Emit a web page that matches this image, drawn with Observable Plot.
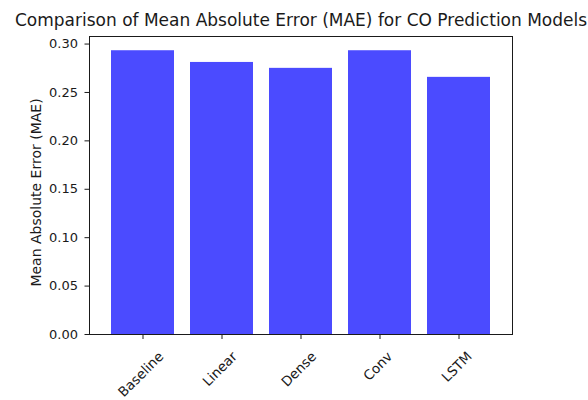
<!DOCTYPE html>
<html><head><meta charset="utf-8">
<script src="https://cdn.jsdelivr.net/npm/d3@7"></script>
<script src="https://cdn.jsdelivr.net/npm/@observablehq/plot@0.6"></script>
<style>body{margin:0;background:#fff} svg{display:block}</style>
</head><body><div id="chart"></div>
<script>
const models = ["Baseline", "Linear", "Dense", "Conv", "LSTM"];
const mae = [0.2931, 0.2810, 0.2749, 0.2931, 0.2656];
const yTicks = [0, 0.05, 0.10, 0.15, 0.20, 0.25, 0.30];
const title = "Comparison of Mean Absolute Error (MAE) for CO Prediction Models";
const yLabel = "Mean Absolute Error (MAE)";

const data = models.map((m, i) => ({model: m, mae: mae[i]}));
const FONT = "DejaVu Sans";

const chart = Plot.plot({
  width: 588, height: 400,
  marginLeft: 89, marginRight: 76, marginTop: 36, marginBottom: 66,
  style: {fontFamily: FONT, fontSize: "13px", color: "#1a1a1a", background: "#fff", overflow: "visible"},
  x: {domain: models, paddingInner: 0.2, paddingOuter: 0.25},
  y: {domain: [0, 0.3078]},
  marks: [
    Plot.barY(data, {x: "model", y: "mae", fill: "#4b4bff"}),
    Plot.frame({stroke: "#1a1a1a"}),
    Plot.axisY({ticks: yTicks, tickFormat: d => d.toFixed(2), tickSize: 4.5, tickPadding: 7, label: null, fontSize: 13, fontFamily: FONT}),
    Plot.axisX({tickSize: 5, tickFormat: () => "", label: null}),
    Plot.text([yLabel], {frameAnchor: "left", text: d => d, rotate: -90, textAnchor: "middle", lineAnchor: "middle", dx: -53, dy: 7, fontSize: 14, fontFamily: FONT}),
    Plot.text([title], {frameAnchor: "top", text: d => d, lineAnchor: "bottom", dy: -10.5, fontSize: 17, fontFamily: FONT})
  ]
});
document.getElementById("chart").appendChild(chart);

// rotated x tick labels, positioned like matplotlib (bbox centred under the tick)
const xs = chart.scale("x");
const ys = chart.scale("y");
const y0 = ys.apply(0) + 15;
const g = d3.select(chart).append("g")
  .attr("font-family", FONT).attr("font-size", 13.5).attr("fill", "#1a1a1a")
  .attr("text-anchor", "middle");
models.forEach(m => {
  const cx = xs.apply(m) + xs.bandwidth / 2 - 1.5;
  const t = g.append("text").attr("dy", "0.32em").text(m);
  const L = t.node().getComputedTextLength();
  const H = 15;
  const off = (L + H) * Math.SQRT1_2 / 2;
  t.attr("transform", `translate(${cx},${y0 + off}) rotate(-45)`);
});
</script>
</body></html>
